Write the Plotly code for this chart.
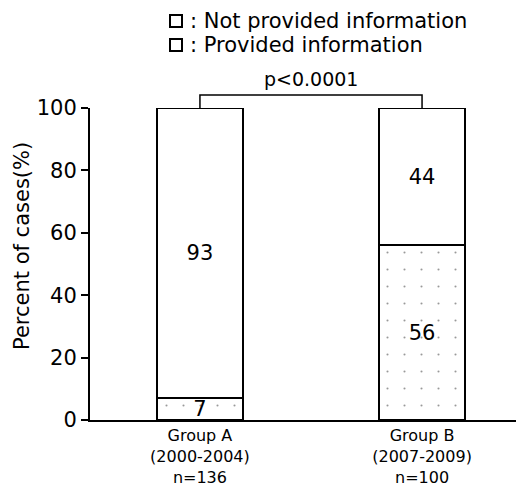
import plotly.graph_objects as go

groups = ["Group A<br>(2000-2004)<br>n=136", "Group B<br>(2007-2009)<br>n=100"]
provided = [7, 56]
not_provided = [93, 44]
series_names = [": Not provided information", ": Provided information"]
y_title = "Percent of cases(%)"
p_text = "p<0.0001"
y_ticks = [0, 20, 40, 60, 80, 100]

FONT = "DejaVu Sans"
x_pos = [0, 1]

# page has an 8px body margin; figure sized to fit the 524x494 window
OFF = 8
W, H = 524 - OFF, 494 - OFF
# plot area in page pixels: x 90..520, y 108..420
L, R, T, B = 90 - OFF, W - (520 - OFF), 108 - OFF, H - (420 - OFF)
PW, PH = W - L - R, H - T - B


def px_x(px):  # page px -> paper x
    return (px - OFF - L) / PW


def px_y(py):  # page px -> paper y
    return (H - B - (py - OFF)) / PH


fig = go.Figure()
fig.add_trace(go.Bar(
    x=x_pos, y=provided, name=series_names[1],
    marker=dict(color="white", line=dict(color="black", width=2),
                pattern=dict(shape=".", fgcolor="#333", bgcolor="white", size=17, solidity=0.012)),
    text=provided, texttemplate="%{text}", textposition="inside", insidetextanchor="middle",
    textangle=0, textfont=dict(family=FONT, size=21, color="black"), width=0.39,
))
fig.add_trace(go.Bar(
    x=x_pos, y=not_provided, name=series_names[0],
    marker=dict(color="white", line=dict(color="black", width=2)),
    text=not_provided, texttemplate="%{text}", textposition="inside", insidetextanchor="middle",
    textangle=0, textfont=dict(family=FONT, size=21, color="black"), width=0.39,
))

# significance bracket
fig.add_shape(type="path", xref="x", yref="paper",
              path="M 0,1.0 L 0,1.042 L 1,1.042 L 1,1.0",
              line=dict(color="black", width=1.5))
fig.add_annotation(x=0.5, xref="x", y=1.05, yref="paper", text=p_text, showarrow=False,
                   yanchor="bottom", font=dict(family=FONT, size=19, color="black"))
# short extension of x axis to the left of y axis
fig.add_shape(type="line", xref="paper", yref="y", x0=px_x(84), x1=0, y0=0, y1=0,
              line=dict(color="black", width=2))

# y axis title
fig.add_annotation(x=px_x(22), y=px_y(246), xref="paper", yref="paper", text=y_title,
                   showarrow=False, textangle=-90, xanchor="center", yanchor="middle",
                   font=dict(family=FONT, size=21, color="black"))

# manual legend (squares + labels)
for name, cy in zip(series_names, [21, 45]):
    fig.add_shape(type="rect", xref="paper", yref="paper",
                  x0=px_x(170), x1=px_x(182), y0=px_y(cy + 6), y1=px_y(cy - 6),
                  line=dict(color="black", width=2), fillcolor="white")
    fig.add_annotation(x=px_x(188), y=px_y(cy), xref="paper", yref="paper", text=name,
                       showarrow=False, xanchor="left", yanchor="middle",
                       font=dict(family=FONT, size=21, color="black"))

fig.update_layout(
    width=W, height=H,
    margin=dict(l=L, r=R, t=T, b=B),
    paper_bgcolor="white", plot_bgcolor="white",
    barmode="stack",
    font=dict(family=FONT, color="black"),
    uniformtext=dict(minsize=18, mode="show"),
    showlegend=False,
)
fig.update_xaxes(range=[-0.495, 1.441], tickmode="array", tickvals=x_pos, ticktext=groups,
                 showline=True, linecolor="black", linewidth=2, ticks="", showgrid=False,
                 zeroline=False, tickfont=dict(family=FONT, size=16, color="black"))
fig.update_yaxes(range=[0, 100], tickmode="array", tickvals=y_ticks,
                 showline=True, linecolor="black", linewidth=2, ticks="outside", ticklen=7,
                 tickwidth=1.5, tickcolor="black", showgrid=False, zeroline=False,
                 tickfont=dict(family=FONT, size=21, color="black"))

fig.write_html("out.html")
